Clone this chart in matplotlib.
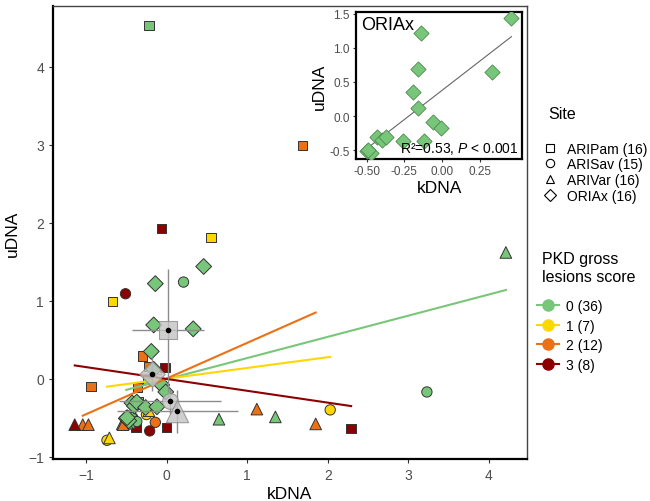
import numpy as np
import pandas as pd
import matplotlib
matplotlib.use("Agg")
import matplotlib.pyplot as plt
from matplotlib.lines import Line2D
from matplotlib.ticker import FormatStrFormatter

plt.rcParams['font.family'] = ['Liberation Sans', 'DejaVu Sans']
plt.rcParams['mathtext.fontset'] = 'custom'
plt.rcParams['mathtext.it'] = 'Liberation Sans:italic'
plt.rcParams['mathtext.rm'] = 'Liberation Sans'

# data (hidden green points first)
pam_k = [-0.45, -0.35, -0.24, -0.22, -0.06, 0.55, 1.69, -0.67, -0.30, -0.22, -0.02, -0.94, -0.36, -0.38, 0.00, 2.29]
pam_u = [-0.50, -0.30, -0.01, 4.53, 1.93, 1.81, 2.99, 0.99, 0.29, 0.16, 0.14, -0.10, -0.11, -0.63, -0.63, -0.64]
pam_score = [0, 0, 0, 0, 3, 1, 2, 1, 2, 2, 3, 2, 2, 3, 3, 3]

sav_k = [-0.48, -0.42, -0.40, -0.47, -0.45, -0.43, 0.21, 3.23, -0.37, -0.25, -0.74, 2.03, -0.14, -0.51, -0.21]
sav_u = [-0.52, -0.50, -0.55, -0.48, -0.53, -0.50, 1.24, -0.17, -0.55, -0.46, -0.79, -0.40, -0.56, 1.09, -0.67]
sav_score = [0, 0, 0, 0, 0, 0, 0, 0, 0, 1, 1, 1, 2, 3, 3]

var_k = [-0.50, -0.48, -0.46, -0.49, -0.55, 4.21, 0.65, 1.35, -1.04, -0.97, -0.54, 1.85, 1.12, -1.14, -0.71, -0.22]
var_u = [-0.55, -0.57, -0.56, -0.57, -0.58, 1.62, -0.52, -0.49, -0.59, -0.59, -0.59, -0.58, -0.39, -0.59, -0.76, -0.41]
var_score = [0, 0, 0, 0, 2, 0, 0, 0, 2, 2, 2, 2, 2, 3, 1, 1]

oriax_k = [0.46, -0.14, -0.16, 0.33, -0.19, -0.16, -0.06, -0.01, -0.43, -0.40, -0.37, -0.26, -0.12, -0.50, -0.47, -0.49]
oriax_u = [1.44, 1.22, 0.69, 0.64, 0.35, 0.12, -0.08, -0.17, -0.31, -0.35, -0.30, -0.37, -0.36, -0.51, -0.54, -0.50]
oriax_score = [0] * 16

sites = ['ARIPam', 'ARISav', 'ARIVar', 'ORIAx']
site_markers = ['s', 'o', '^', 'D']
site_sizes = [45, 55, 70, 65]
mean_sizes = [150, 130, 260, 170]
err_k = [0.45, 0.63, 0.75, 0.13]
err_u = [0.79, 0.16, 0.28, 0.22]

scores = [0, 1, 2, 3]
score_colors = ['#78C679', '#FFD700', '#EC7014', '#8B0000']
fit_slope = [0.272, 0.138, 0.458, -0.152]
fit_icpt = [-0.007, 0.0, 0.002, -0.003]

df = pd.concat([
    pd.DataFrame({'site': 'ARIPam', 'k': pam_k, 'u': pam_u, 'score': pam_score}),
    pd.DataFrame({'site': 'ARISav', 'k': sav_k, 'u': sav_u, 'score': sav_score}),
    pd.DataFrame({'site': 'ARIVar', 'k': var_k, 'u': var_u, 'score': var_score}),
    pd.DataFrame({'site': 'ORIAx', 'k': oriax_k, 'u': oriax_u, 'score': oriax_score}),
])

fig = plt.figure(figsize=(6.5, 5.02), dpi=100)
ax = fig.add_axes([0.0815, 0.0837, 0.729, 0.902])

# points
for s, m, sz in zip(sites, site_markers, site_sizes):
    d = df[df.site == s]
    cols = [score_colors[v] for v in d.score]
    ax.scatter(d.k, d.u, marker=m, s=sz, c=cols, edgecolors='#333333', linewidths=0.7, zorder=3)

# fitted lines per score
for sc, c, b, a in zip(scores, score_colors, fit_slope, fit_icpt):
    d = df[df.score == sc]
    xs = np.array([d.k.min(), d.k.max()])
    ax.plot(xs, a + b * xs, color=c, lw=1.5, zorder=4)

# site means with bars
means = df.groupby('site')[['k', 'u']].mean().loc[sites]
for i, s in enumerate(sites):
    mk, mu = means.loc[s, 'k'], means.loc[s, 'u']
    ax.errorbar(mk, mu, xerr=err_k[i], yerr=err_u[i], fmt='none', ecolor='#8C8C8C', elinewidth=1.0, capsize=0, zorder=5)
    ax.scatter(mk, mu, marker=site_markers[i], s=mean_sizes[i], c='#C4C4C4', alpha=0.8,
               edgecolors='#8C8C8C', linewidths=0.8, zorder=6)
    ax.scatter(mk, mu, marker='o', s=9, c='black', zorder=7)

ax.set_xlim(-1.41, 4.47)
ax.set_ylim(-1.03, 4.78)
ax.set_xticks([-1, 0, 1, 2, 3, 4])
ax.set_yticks([-1, 0, 1, 2, 3, 4])
ax.tick_params(labelsize=10, labelcolor='#4D4D4D', color='#333333', length=3)
ax.set_xlabel('kDNA', fontsize=12.5, labelpad=3)
ax.set_ylabel('uDNA', fontsize=12.5, labelpad=6)
for sp in ax.spines.values():
    sp.set_linewidth(1.0)
    sp.set_color('#444444')
ax.spines['left'].set_linewidth(1.6)
ax.spines['left'].set_color('black')
ax.spines['bottom'].set_linewidth(1.6)
ax.spines['bottom'].set_color('black')

# inset for ORIAx
ins = fig.add_axes([0.548, 0.681, 0.255, 0.294])
ins.set_facecolor('white')
ins.scatter(oriax_k, oriax_u, marker='D', s=60, c=score_colors[0], edgecolors='#4E8A4E', linewidths=0.6, zorder=3)
b, a = np.polyfit(oriax_k, oriax_u, 1)
xs = np.array([min(oriax_k), max(oriax_k)])
ins.plot(xs, a + b * xs, color='#666666', lw=0.8, zorder=2)
ins.set_xlim(-0.57, 0.53)
ins.set_ylim(-0.63, 1.53)
ins.set_xticks([-0.5, -0.25, 0.0, 0.25])
ins.set_yticks([-0.5, 0.0, 0.5, 1.0, 1.5])
ins.xaxis.set_major_formatter(FormatStrFormatter('%.2f'))
ins.yaxis.set_major_formatter(FormatStrFormatter('%.1f'))
ins.tick_params(labelsize=8.5, labelcolor='#4D4D4D', color='#333333', length=2.5, pad=2)
ins.set_xlabel('kDNA', fontsize=12.5, labelpad=2)
ins.set_ylabel('uDNA', fontsize=12.5, labelpad=2)
for sp in ins.spines.values():
    sp.set_linewidth(1.6)
    sp.set_color('black')
ins.text(0.03, 0.97, 'ORIAx', transform=ins.transAxes, fontsize=13, va='top', ha='left')
ins.text(0.98, 0.02, 'R²=0.53, $\\it{P}$ < 0.001', transform=ins.transAxes, fontsize=10,
         va='bottom', ha='right')

# legends
fig.text(0.843, 0.771, 'Site', fontsize=11.5, va='center', ha='left')
site_counts = df.groupby('site').size().loc[sites]
site_handles = [Line2D([], [], marker=m, ls='none', mfc='none', mec='black', mew=0.8, ms=6)
                for m in site_markers]
site_labels = ['%s (%d)' % (s, n) for s, n in zip(sites, site_counts)]
fig.legend(site_handles, site_labels, loc='upper left',
           bbox_to_anchor=(0.825, 0.727), frameon=False, fontsize=10,
           handlelength=1.2, handletextpad=0.6, labelspacing=0.12, borderaxespad=0)

fig.text(0.834, 0.465, 'PKD gross\nlesions score', fontsize=11.5, va='center', ha='left',
         linespacing=1.3)
score_counts = df.groupby('score').size().loc[scores]
score_handles = [Line2D([], [], color=c, marker='o', ms=8, lw=1.5) for c in score_colors]
score_labels = ['%d (%d)' % (s, n) for s, n in zip(scores, score_counts)]
fig.legend(score_handles, score_labels, loc='upper left',
           bbox_to_anchor=(0.818, 0.413), frameon=False, fontsize=10,
           handlelength=1.6, handletextpad=0.5, labelspacing=0.4, borderaxespad=0)

fig.savefig('out.png', dpi=100)
